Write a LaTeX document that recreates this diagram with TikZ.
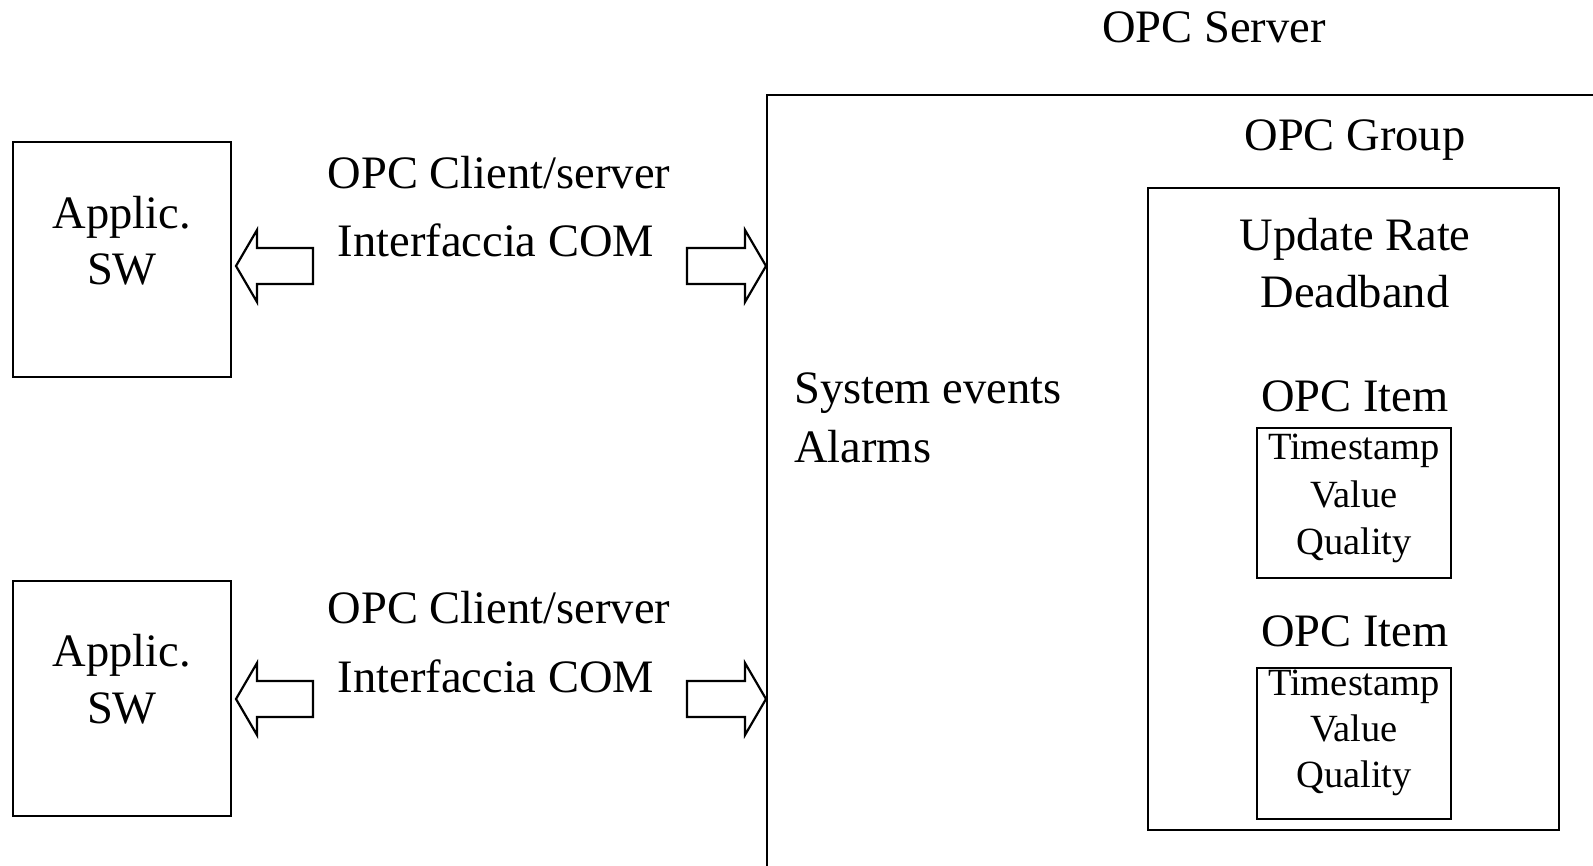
\documentclass[tikz,border=0pt]{standalone}
\usepackage{fontspec}
\setmainfont{Liberation Serif}
\begin{document}
\begin{tikzpicture}[x=1pt,y=-1pt,
  frame/.style={draw=black,line width=2.2pt},
  blockarrow/.style={draw=black,line width=2.2pt,line join=miter,fill=white},
  big/.style={inner sep=0pt,font=\fontsize{46.5}{58}\selectfont},
  small/.style={inner sep=0pt,font=\fontsize{38.5}{47}\selectfont}]
\useasboundingbox (0,0) rectangle (1593,866);
\clip (0,0) rectangle (1593,866);
\fill[white] (0,0) rectangle (1593,866);

% boxes
\coordinate (srvtl) at (767,95);
\draw[frame] (1610,95) -- (srvtl) -- (767,880);
\draw[frame] (13,142) rectangle (231,377);
\draw[frame] (13,581) rectangle (231,816);
\draw[frame] (1148,188) rectangle (1559,830);
\draw[frame] (1257,428) rectangle (1451,578);
\draw[frame] (1257,668) rectangle (1451,819);

% block arrows
\draw[blockarrow] (236,266) -- (257,230) -- (257,248) -- (313,248) -- (313,284) -- (257,284) -- (257,302) -- cycle;
\draw[blockarrow] (766,266) -- (745,230) -- (745,248) -- (687,248) -- (687,284) -- (745,284) -- (745,302) -- cycle;
\draw[blockarrow] (236,699) -- (257,663) -- (257,681) -- (313,681) -- (313,717) -- (257,717) -- (257,735) -- cycle;
\draw[blockarrow] (766,699) -- (745,663) -- (745,681) -- (687,681) -- (687,717) -- (745,717) -- (745,735) -- cycle;

% texts
\node[big,anchor=base] (srv) at (1214,43) {OPC Server};
\node[big,anchor=base] (grp) at (1355,151) {OPC Group};
\node[big,anchor=base] (upd) at (1355,251) {Update Rate};
\node[big,anchor=base] (dead) at (1355,308) {Deadband};
\node[big,anchor=base] (item1) at (1355,411) {OPC Item};
\node[big,anchor=base] (item2) at (1355,646) {OPC Item};
\node[small,anchor=base] (ts1) at (1354,459) {Timestamp};
\node[small,anchor=base] (v1) at (1354,507) {Value};
\node[small,anchor=base] (q1) at (1354,554) {Quality};
\node[small,anchor=base] (ts2) at (1354,695) {Timestamp};
\node[small,anchor=base] (v2) at (1354,741) {Value};
\node[small,anchor=base] (q2) at (1354,787) {Quality};
\node[big,anchor=base west] (sys) at (794,404) {System events};
\node[big,anchor=base west] (alm) at (794,462) {Alarms};
\node[big,anchor=base] (ap1) at (122,229) {Applic.};
\node[big,anchor=base] (sw1) at (122,285) {SW};
\node[big,anchor=base] (ap2) at (122,666) {Applic.};
\node[big,anchor=base] (sw2) at (122,723) {SW};
\node[big,anchor=base] (cs1) at (499,189) {OPC Client/server};
\node[big,anchor=base] (com1) at (496,257) {Interfaccia COM};
\node[big,anchor=base] (cs2) at (499,623) {OPC Client/server};
\node[big,anchor=base] (com2) at (496,692) {Interfaccia COM};
\end{tikzpicture}
\end{document}
